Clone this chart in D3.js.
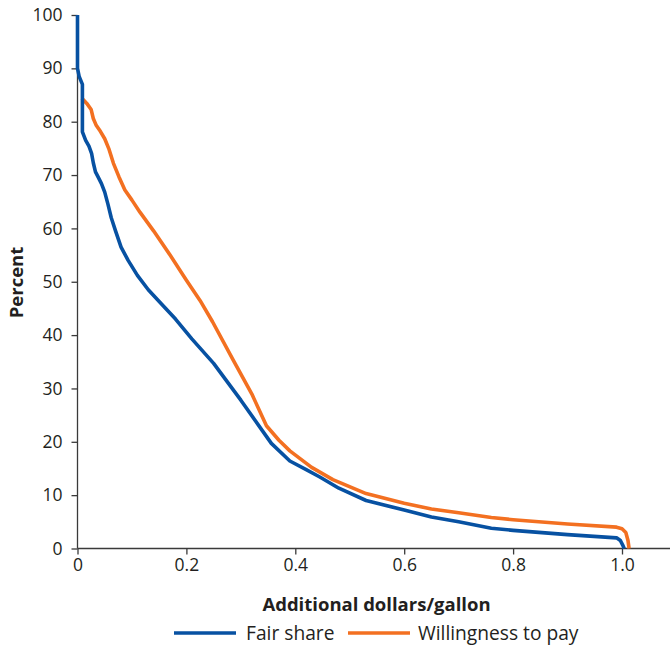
<!DOCTYPE html>
<html><head><meta charset="utf-8">
<script src="https://cdn.jsdelivr.net/npm/d3@7"></script>
<style>body{margin:0;background:#fff}svg{display:block}text{font-family:"Open Sans",Lato,sans-serif;fill:#231f20}</style>
</head><body><svg id="c" width="670" height="648"></svg>
<script>
const seriesNames = ["Fair share", "Willingness to pay"];
const fairX = [0,0,0.003,0.009,0.009,0.015,0.021,0.026,0.029,0.033,0.038,0.044,0.05,0.056,0.062,0.07,0.08,0.093,0.11,0.13,0.15,0.18,0.21,0.25,0.3,0.356,0.39,0.42,0.445,0.48,0.53,0.6,0.65,0.7,0.76,0.8,0.9,0.99,0.997,1.002,1.004];
const fairY = [100,90,88.5,87,78.1,76.5,75.4,74,72.3,70.6,69.6,68.4,66.8,64.5,62,59.5,56.5,54,51.2,48.5,46.3,43,39.3,34.7,27.8,19.7,16.4,14.8,13.4,11.3,9,7.2,5.9,5,3.8,3.4,2.6,2.0,1.5,0.5,0];
const wtpX = [0.008,0.018,0.025,0.029,0.034,0.042,0.05,0.058,0.066,0.076,0.087,0.1,0.115,0.14,0.17,0.2,0.225,0.248,0.286,0.32,0.347,0.37,0.39,0.43,0.469,0.53,0.6,0.65,0.7,0.76,0.8,0.9,0.99,1.0,1.007,1.011,1.013];
const wtpY = [84.4,83.3,82.3,80.6,79.4,78.2,76.8,74.8,72.2,69.7,67.2,65.3,63,59.5,55,50.3,46.5,42.5,35.3,29,23,20.3,18.3,15.2,12.9,10.3,8.5,7.4,6.7,5.8,5.4,4.6,4.0,3.7,3,1.5,0];
const xTicks = [0,0.2,0.4,0.6,0.8,1.0];
const xTickLabels = ["0","0.2","0.4","0.6","0.8","1.0"];
const yTicks = [0,10,20,30,40,50,60,70,80,90,100];
const colors = ["#0751a2","#f37021"];

const svg = d3.select("#c");
const x = d3.scaleLinear().domain([0,1]).range([77.5,622]);
const y = d3.scaleLinear().domain([0,100]).range([548.5,15]);

const xAxis = svg.append("g").attr("transform","translate(0,548.5)")
  .call(d3.axisBottom(x).tickValues(xTicks).tickFormat((d,i)=>xTickLabels[i]).tickSize(6).tickPadding(4));
xAxis.select(".domain").attr("d","M77.5,0H670");
const yAxis = svg.append("g").attr("transform","translate(77.5,0)")
  .call(d3.axisLeft(y).tickValues(yTicks).tickSize(6).tickPadding(9));
yAxis.select(".domain").attr("d","M0,15V548.5");
svg.selectAll(".domain,.tick line").attr("stroke","#3a3a3a").attr("stroke-width",1.3);
svg.selectAll(".tick text").attr("font-size",17.5).attr("font-family","'Open Sans',sans-serif").attr("fill","#231f20");

const lg = d3.line().x(d=>x(d[0])).y(d=>y(d[1])).curve(d3.curveLinear);
const data = [d3.zip(fairX,fairY), d3.zip(wtpX,wtpY)];
[1,0].forEach(i=>{
  svg.append("path").datum(data[i]).attr("d",lg).attr("fill","none")
    .attr("stroke",colors[i]).attr("stroke-width",3.6).attr("stroke-linejoin","round");
});

svg.append("text").attr("x",376.5).attr("y",611).attr("text-anchor","middle")
  .attr("font-size",18.5).attr("font-weight","bold").text("Additional dollars/gallon");
svg.append("text").attr("transform","translate(23,282.5) rotate(-90)").attr("text-anchor","middle")
  .attr("font-size",18.5).attr("font-weight","bold").text("Percent");

const leg = [{x1:174,x2:236,tx:246},{x1:348,x2:410,tx:418}];
leg.forEach((l,i)=>{
  svg.append("line").attr("x1",l.x1).attr("x2",l.x2).attr("y1",633).attr("y2",633)
    .attr("stroke",colors[i]).attr("stroke-width",3.6);
  svg.append("text").attr("x",l.tx).attr("y",640).attr("font-size",19.2).text(seriesNames[i]);
});
</script></body></html>
